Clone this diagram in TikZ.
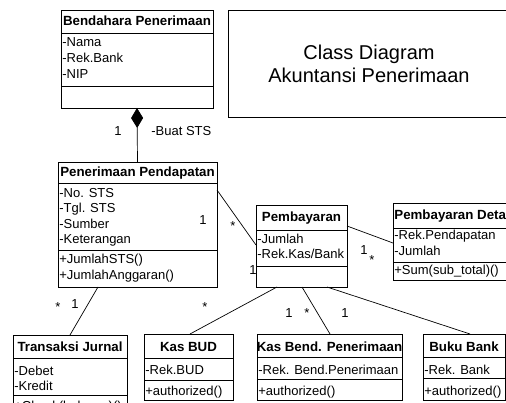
\documentclass[tikz,border=0pt]{standalone}
\usepackage{fontspec}
\setmainfont{Liberation Sans}
\usetikzlibrary{arrows.meta}
\begin{document}
\begin{tikzpicture}[x=1pt,y=-1pt,line width=0.8pt,
  classbox/.style={draw, inner sep=0pt, outer sep=0pt},
  ttl/.style={font=\fontsize{13.3}{15}\selectfont\bfseries, inner sep=0pt, anchor=base},
  txt/.style={font=\fontsize{13}{15}\selectfont, inner sep=0pt, anchor=base west},
  mult/.style={font=\fontsize{13}{15}\selectfont, inner sep=0pt},
  conn/.style={draw, line width=0.7pt}]
\useasboundingbox (0,0) rectangle (506,403);
\clip (0,0) rectangle (506,403);

% Bendahara Penerimaan
\node[classbox, minimum width=152pt, minimum height=98pt, anchor=north west] (bend) at (61,10) {};
\draw (61,33) -- (213,33) (61,86) -- (213,86);
\node[ttl] (bendT) at (137,26) {Bendahara Penerimaan};
\node[txt] (bendA1) at (62,47) {-Nama};
\node[txt] (bendA2) at (62,63) {-Rek.Bank};
\node[txt] (bendA3) at (62,79) {-NIP};

% Title box
\node[classbox, minimum width=300pt, minimum height=107pt, anchor=north west] (titlebox) at (228,10) {};
\node[font=\fontsize{20}{23}\selectfont, align=center, inner sep=0pt] (titletext) at (369,64) {Class Diagram\\Akuntansi Penerimaan};

% Penerimaan Pendapatan
\node[classbox, minimum width=159pt, minimum height=125pt, anchor=north west] (pen) at (58,162) {};
\draw (58,183) -- (217,183) (58,250) -- (217,250);
\node[ttl] (penT) at (137.5,177) {Penerimaan Pendapatan};
\node[txt] (penA1) at (59,198) {-No. STS};
\node[txt] (penA2) at (59,213) {-Tgl. STS};
\node[txt] (penA3) at (59,229) {-Sumber};
\node[txt] (penA4) at (59,244) {-Keterangan};
\node[txt] (penM1) at (59,264) {+JumlahSTS()};
\node[txt] (penM2) at (59,280) {+JumlahAnggaran()};

% Pembayaran
\node[classbox, minimum width=91pt, minimum height=82pt, anchor=north west] (pemb) at (256,205) {};
\draw (256,230) -- (347,230) (256,266) -- (347,266);
\node[ttl] (pembT) at (301.5,222) {Pembayaran};
\node[txt] (pembA1) at (257,244) {-Jumlah};
\node[txt] (pembA2) at (257,259) {-Rek.Kas/Bank};

% Pembayaran Detail
\node[classbox, minimum width=160pt, minimum height=77pt, anchor=north west] (det) at (393,203) {};
\draw (393,228) -- (560,228) (393,262) -- (560,262);
\node[ttl, anchor=base west] (detT) at (394,220) {Pembayaran Detail};
\node[txt] (detA1) at (394,240) {-Rek.Pendapatan};
\node[txt] (detA2) at (394,256) {-Jumlah};
\node[txt] (detM1) at (394,275) {+Sum(sub\_total)()};

% Transaksi Jurnal
\node[classbox, minimum width=114pt, minimum height=90pt, anchor=north west] (trans) at (13,335) {};
\draw (13,358) -- (127,358) (13,395) -- (127,395);
\node[ttl] (transT) at (70,352) {Transaksi Jurnal};
\node[txt] (transA1) at (14,375) {-Debet};
\node[txt] (transA2) at (14,390) {-Kredit};
\node[txt] (transM1) at (14,410) {+Check(balance)()};

% Kas BUD
\node[classbox, minimum width=89pt, minimum height=66pt, anchor=north west] (kbud) at (144,334) {};
\draw (144,358) -- (233,358) (144,380) -- (233,380);
\node[ttl] (kbudT) at (188.5,351) {Kas BUD};
\node[txt] (kbudA1) at (145,374) {-Rek.BUD};
\node[txt] (kbudM1) at (145,395) {+authorized()};

% Kas Bend. Penerimaan
\node[classbox, minimum width=145pt, minimum height=66pt, anchor=north west] (kbend) at (257,334) {};
\draw (257,357) -- (402,357) (257,379) -- (402,379);
\node[ttl] (kbendT) at (329.5,351) {Kas Bend. Penerimaan};
\node[txt] (kbendA1) at (258,374) {-Rek. Bend.Penerimaan};
\node[txt] (kbendM1) at (258,395) {+authorized()};

% Buku Bank
\node[classbox, minimum width=82pt, minimum height=66pt, anchor=north west] (bbank) at (423,334) {};
\draw (423,357) -- (505,357) (423,378) -- (505,378);
\node[ttl] (bbankT) at (464,351) {Buku Bank};
\node[txt] (bbankA1) at (424,374) {-Rek. Bank};
\node[txt] (bbankM1) at (424,395) {+authorized()};

% Connectors
\draw[conn, {Diamond[length=20pt,width=12pt,fill=black]}-] (bend.south) -- (pen.north);
\draw[conn] ([yshift=-28pt]pen.north east) -- ([yshift=-40pt]pemb.north west);
\draw[conn] ([xshift=-39.5pt]pen.south) -- ([xshift=57pt]trans.north west);
\draw[conn] ([xshift=21pt]pemb.south west) -- ([xshift=46pt]kbud.north west);
\draw[conn] ([xshift=46pt]pemb.south west) -- ([xshift=73pt]kbend.north west);
\draw[conn] ([xshift=71pt]pemb.south west) -- ([xshift=47pt]bbank.north west);
\draw[conn] ([yshift=-21pt]pemb.north east) -- ([yshift=-40pt]det.north west);

% Multiplicities and labels
\node[mult] (m1) at (118,131) {1};
\node[mult, anchor=west] (m2) at (151,131) {-Buat STS};
\node[mult] (m3) at (203,220) {1};
\node[mult] (m4) at (233,226) {*};
\node[mult] (m5) at (253,270) {1};
\node[mult] (m6) at (58,307) {*};
\node[mult] (m7) at (75,304) {1};
\node[mult] (m8) at (205,307) {*};
\node[mult] (m9) at (289,313) {1};
\node[mult] (m10) at (307,313) {*};
\node[mult] (m11) at (345,313) {1};
\node[mult] (m12) at (364,250) {1};
\node[mult] (m13) at (372,260) {*};
\end{tikzpicture}
\end{document}
